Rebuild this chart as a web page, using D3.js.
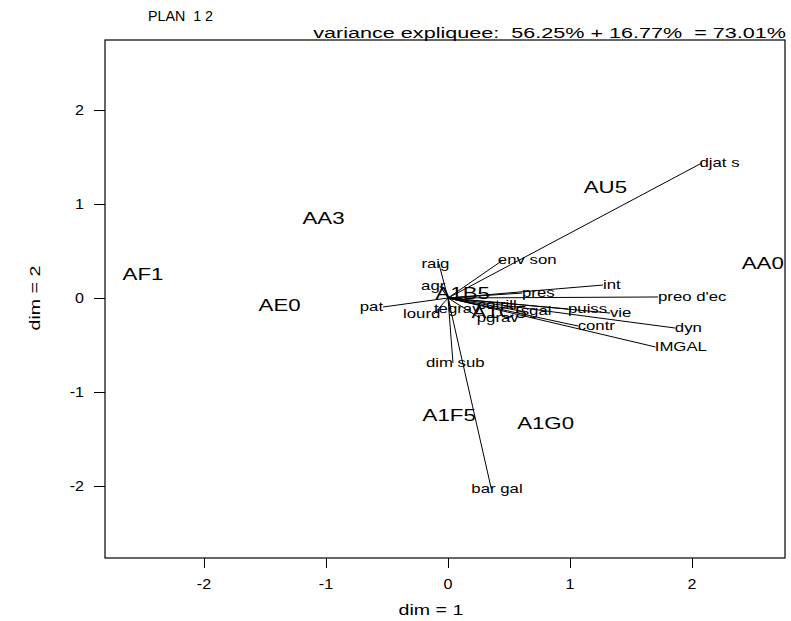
<!DOCTYPE html>
<html>
<head>
<meta charset="utf-8">
<script src="https://cdn.jsdelivr.net/npm/d3@7"></script>
<style>
  html, body { margin: 0; padding: 0; background: #fff; }
  svg text { font-family: "Liberation Sans", Arial, Helvetica, sans-serif; fill: #000; white-space: pre; }
</style>
</head>
<body>
<svg id="chart" width="791" height="621"></svg>
<script>
// ---- Data ----
const obsNames = ["AF1", "AE0", "AA3", "AU5", "AA0", "A1F5", "A1G0", "A1B5", "A1C5"];
const obsX     = [-2.50, -1.38, -1.02, 1.29, 2.58, 0.01, 0.80, 0.12, 0.42];
const obsY     = [0.255, -0.074, 0.851, 1.181, 0.372, -1.245, -1.33, 0.053, -0.149];

const varNames = ["djat s", "env son", "int", "preo d'ec", "pres", "puiss", "vie", "dyn", "IMGAL",
                  "contr", "sgal", "cotrill", "pgrav", "tegrav", "lourd", "pat", "agr", "raig",
                  "dim sub", "bar gal"];
const varX     = [2.08, 0.451, 1.27, 1.721, 0.607, 0.984, 1.328, 1.86, 1.70,
                  1.066, 0.598, 0.246, 0.262, 0.025, -0.115, -0.533, -0.066, -0.074,
                  0.041, 0.355];
const varY     = [1.436, 0.404, 0.138, 0.011, 0.053, -0.117, -0.16, -0.319, -0.521,
                  -0.298, -0.138, -0.074, -0.213, -0.117, -0.17, -0.096, 0.128, 0.362,
                  -0.691, -2.03];

const xTicks = [-2, -1, 0, 1, 2];
const yTicks = [-2, -1, 0, 1, 2];
const titleText = "PLAN  1 2";
const varianceText = "variance expliquee:  56.25% + 16.77%  = 73.01%";
const xLabel = "dim = 1";
const yLabel = "dim = 2";

// ---- Layout ----
const svg = d3.select("#chart");
const L = 105, R = 785, T = 40, B = 558;
const x = d3.scaleLinear().domain([-2.811, 2.762]).range([L, R]);
const y = d3.scaleLinear().domain([-2.766, 2.745]).range([B, T]);
const SX = 1.4; // horizontal stretch of the original device font

function addText(g, px, py, str, o) {
  const t = g.append("text")
    .attr("transform", `translate(${px},${py})` + (o.rotate ? ` rotate(${o.rotate})` : "") + ` scale(${o.sx || 1},1)`)
    .attr("font-size", o.size)
    .attr("text-anchor", o.anchor || "start")
    .attr("dy", o.dy || 0)
    .text(str);
  return t;
}

// frame
svg.append("rect").attr("x", L).attr("y", T).attr("width", R - L).attr("height", B - T)
  .attr("fill", "none").attr("stroke", "#000").attr("stroke-width", 1.2);

// axes (ticks via d3 axis, labels stretched like original font)
const xAxis = d3.axisBottom(x).tickValues(xTicks).tickSize(10).tickFormat("");
const gx = svg.append("g").attr("transform", `translate(0,${B})`).call(xAxis);
gx.select(".domain").remove();
gx.selectAll("line").attr("stroke", "#000");
xTicks.forEach(v => addText(svg, x(v), B + 31, String(v), { size: 14, sx: 1.15, anchor: "middle" }));

const yAxis = d3.axisLeft(y).tickValues(yTicks).tickSize(11).tickFormat("");
const gy = svg.append("g").attr("transform", `translate(${L},0)`).call(yAxis);
gy.select(".domain").remove();
gy.selectAll("line").attr("stroke", "#000");
yTicks.forEach(v => addText(svg, L - 21, y(v), String(v), { size: 14, sx: 1.15, anchor: "end", dy: "0.35em" }));

// titles
addText(svg, 148, 21, titleText, { size: 14, sx: 1.02 });
addText(svg, 786, 38, varianceText, { size: 15, sx: 1.44, anchor: "end" });
addText(svg, 431, 615, xLabel, { size: 14, sx: SX, anchor: "middle" });
addText(svg, 40, y(0), yLabel, { size: 14, sx: SX, anchor: "middle", rotate: -90 });

// variable arrows
const vars = varNames.map((n, i) => ({ name: n, x: varX[i], y: varY[i] }));
const ox = x(0), oy = y(0);
svg.append("g").selectAll("line").data(vars).join("line")
  .attr("x1", ox).attr("y1", oy)
  .attr("x2", d => x(d.x)).attr("y2", d => y(d.y))
  .attr("stroke", "#000").attr("stroke-width", 1);

const gv = svg.append("g");
vars.forEach(d => {
  const tx = x(d.x), ty = y(d.y);
  const t = addText(gv, 0, 0, d.name, { size: 12, sx: SX, dy: "0.35em" });
  const w = t.node().getComputedTextLength() * SX;
  const px = tx - ox, py = ty - oy;
  const c = px / (Math.hypot(px, py) || 1);
  const hj = 0.5 - 0.5 * c;
  t.attr("transform", `translate(${tx - hj * w},${ty}) scale(${SX},1)`);
});

// observations
const obs = obsNames.map((n, i) => ({ name: n, x: obsX[i], y: obsY[i] }));
const go = svg.append("g");
obs.forEach(d => addText(go, x(d.x), y(d.y), d.name, { size: 16.5, sx: 1.35, anchor: "middle", dy: "0.35em" }));
</script>
</body>
</html>
